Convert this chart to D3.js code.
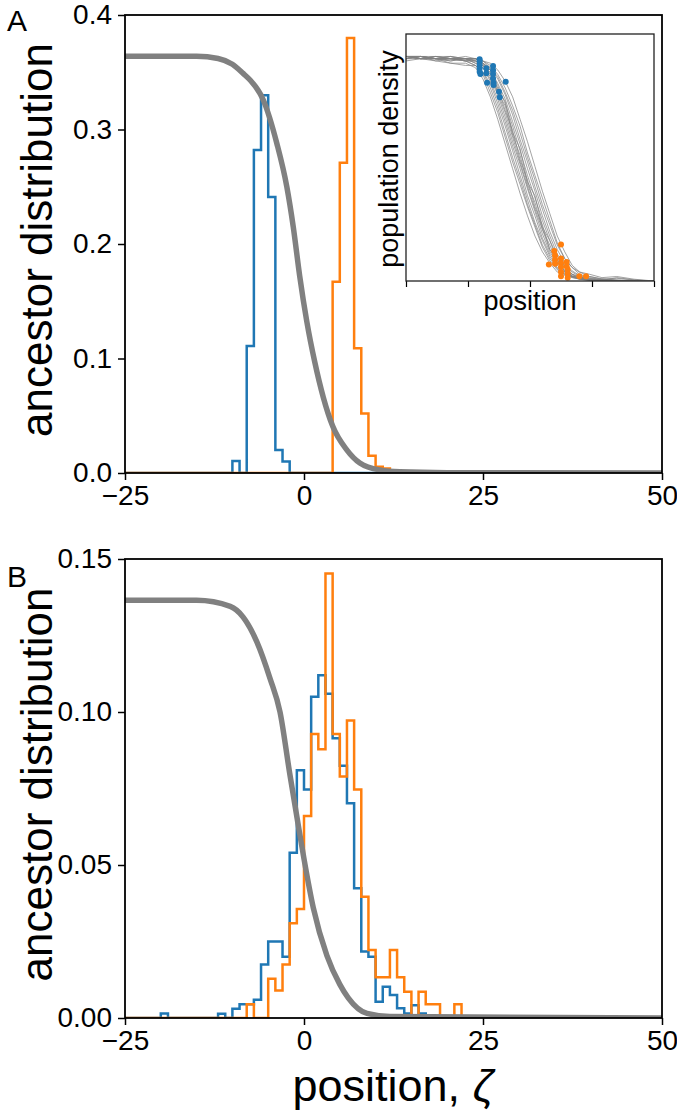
<!DOCTYPE html>
<html><head><meta charset="utf-8">
<script src="https://cdn.jsdelivr.net/npm/d3@7"></script>
<style>body{margin:0;background:#fff}svg{display:block}text{font-family:"Liberation Sans",Arial,Helvetica,sans-serif}</style>
</head><body><svg id="c" width="677" height="1118"></svg>
<script>
// ---------- data ----------
const xTicks = [-25, 0, 25, 50];
const yTicksA = [0, 0.1, 0.2, 0.3, 0.4];
const yTicksB = [0, 0.05, 0.10, 0.15];

// Panel A histograms (bin edges and heights)
const blueAEdges = [-10, -9, -8, -7, -6, -5, -4, -3, -2];
const blueAVals  = [0.0105, 0, 0.111, 0.282, 0.330, 0.241, 0.020, 0.010];
const orangeAEdges = [4, 5, 6, 7, 8, 9, 10, 11, 12];
const orangeAVals  = [0.167, 0.271, 0.380, 0.109, 0.052, 0.015, 0.0055, 0.004];

// Panel A population profile
const grayAx = [-25, -15, -12, -10, -8.5, -7.5, -5.7, -3.8, -2.4, -1.5, -0.6, 0.4, 1.5, 2.7, 4.0, 6.0, 7.8, 10.6, 13.4, 20, 50];
const grayAy = [0.364, 0.364, 0.362, 0.357, 0.349, 0.343, 0.326, 0.288, 0.250, 0.215, 0.172, 0.132, 0.097, 0.066, 0.041, 0.020, 0.0087, 0.0026, 0.001, 0.0003, 0];

// Panel B histograms
const blueBEdges = [-20,-19,-18,-17,-16,-15,-14,-13,-12,-11,-10,-9,-8,-7,-6,-5,-4,-3,-2,-1,0,1,2,3,4,5,6,7,8,9,10,11,12,13,14,15,16,17];
const blueBVals  = [0.0015,0,0,0,0,0,0,0,0.0014,0,0.003,0.0045,0.0045,0.006,0.0175,0.025,0.025,0.020,0.054,0.081,0.0747,0.105,0.112,0.106,0.0914,0.0824,0.0702,0.0424,0.0217,0.020,0.0053,0.0102,0.0075,0.0032,0.0015,0.0042,0.0015];
const orangeBEdges = [-8,-7,-6,-5,-4,-3,-2,-1,0,1,2,3,4,5,6,7,8,9,10,11,12,13,14,15,16,17,18,19,20,21,22];
const orangeBVals  = [0.0045,0,0,0.0128,0.009,0.0175,0.031,0.0356,0.066,0.0928,0.0878,0.1453,0.0928,0.0789,0.0972,0.0747,0.0396,0.0222,0.0133,0.0133,0.0222,0.0133,0.0086,0,0.0086,0.0045,0.0045,0,0,0.0045];

// Panel B population profile
const grayBx = [-25, -15, -10.3, -8.5, -6.6, -4.75, -3.35, -2, -0.8, 0, 1.3, 3.2, 5, 6.2, 8.8, 12, 50];
const grayBy = [0.1365, 0.1365, 0.1345, 0.131, 0.123, 0.111, 0.100, 0.080, 0.063, 0.052, 0.036, 0.0204, 0.011, 0.0065, 0.0015, 0.0005, 0];

// Inset: population density profiles at common positions
const insetX = [0, 6, 12, 18, 24, 28, 31, 34, 37, 40, 43, 46, 49, 52, 55, 58, 61, 64, 67, 70, 74, 79, 85, 92, 100];
const insetTraces = [
 [1.00,0.99,1.00,0.99,0.98,0.96,0.92,0.84,0.75,0.64,0.53,0.43,0.33,0.24,0.15,0.09,0.05,0.03,0.015,0.01,0.005,0.003,0.001,0,0],
 [1.00,1.00,0.99,1.00,0.99,0.99,0.98,0.96,0.92,0.86,0.78,0.69,0.57,0.47,0.37,0.27,0.17,0.10,0.06,0.03,0.015,0.006,0.004,0.002,0],
 [0.99,1.00,0.98,0.99,0.99,0.98,0.97,0.92,0.86,0.76,0.67,0.54,0.45,0.33,0.25,0.14,0.10,0.04,0.03,0.01,0.008,0.002,0,0,0],
 [1.00,0.99,0.99,0.98,0.99,0.97,0.95,0.89,0.81,0.71,0.60,0.50,0.38,0.29,0.19,0.12,0.07,0.04,0.02,0.01,0.004,0.002,0.001,0,0],
 [1.00,1.00,1.00,0.99,0.99,0.99,0.97,0.94,0.88,0.81,0.71,0.61,0.50,0.40,0.29,0.20,0.12,0.07,0.04,0.02,0.01,0.004,0.002,0,0],
 [0.99,0.99,0.98,0.97,0.97,0.95,0.90,0.82,0.72,0.61,0.50,0.39,0.29,0.20,0.13,0.08,0.04,0.025,0.02,0.015,0.02,0.01,0.012,0.004,0],
 [1.00,0.99,1.00,1.00,0.99,0.99,0.98,0.97,0.94,0.89,0.82,0.72,0.62,0.51,0.40,0.30,0.20,0.13,0.07,0.04,0.02,0.008,0.003,0.001,0],
 [1.00,1.00,0.99,0.99,0.98,0.98,0.96,0.93,0.84,0.78,0.65,0.56,0.43,0.35,0.23,0.16,0.08,0.06,0.02,0.015,0.004,0.004,0.002,0,0],
 [0.98,0.99,0.99,0.97,0.96,0.96,0.93,0.88,0.79,0.69,0.58,0.47,0.36,0.26,0.18,0.11,0.06,0.035,0.018,0.008,0.003,0.001,0,0,0],
 [1.00,1.00,0.99,0.99,1.00,0.99,0.98,0.95,0.90,0.83,0.74,0.63,0.53,0.42,0.32,0.22,0.14,0.08,0.045,0.025,0.012,0.006,0.003,0,0],
 [1.00,0.99,1.00,0.99,0.98,0.98,0.95,0.90,0.83,0.73,0.62,0.52,0.41,0.31,0.21,0.13,0.08,0.045,0.022,0.011,0.005,0.002,0.015,0.005,0],
 [0.99,1.00,0.99,0.99,0.99,0.98,0.97,0.94,0.87,0.79,0.69,0.58,0.47,0.37,0.27,0.18,0.11,0.06,0.03,0.016,0.008,0.004,0.002,0.001,0],
 [1.00,0.99,0.99,1.00,0.98,0.99,0.96,0.94,0.85,0.80,0.66,0.59,0.44,0.38,0.24,0.18,0.09,0.07,0.03,0.02,0.005,0.008,0.003,0,0],
 [0.99,1.00,0.99,0.99,0.98,0.96,0.93,0.86,0.77,0.66,0.55,0.45,0.34,0.25,0.16,0.10,0.055,0.03,0.016,0.008,0.003,0.002,0.001,0,0],
 [1.00,0.99,0.99,0.99,0.99,0.99,0.97,0.95,0.91,0.84,0.76,0.66,0.55,0.45,0.34,0.25,0.16,0.10,0.06,0.04,0.03,0.015,0.02,0.008,0],
 [1.00,1.00,0.99,0.98,0.99,0.97,0.96,0.91,0.84,0.75,0.64,0.53,0.42,0.32,0.23,0.14,0.085,0.048,0.024,0.012,0.006,0.003,0.001,0,0]
];
const insetXTicks = [0, 25, 50, 75, 100];
const blueDotsX = [29.7,29.7,29.7,29.7,29.7,30.0,32.4,32.4,32.7,35.1,35.1,35.1,35.1,35.3,35.3,37.5,37.8,40.2];
const blueDotsY = [0.987,0.977,0.962,0.947,0.932,0.922,0.947,0.925,0.883,0.957,0.939,0.922,0.902,0.883,0.873,0.843,0.818,0.887];
const orangeDotsX = [57.6,59.8,60.1,60.1,60.1,62.5,62.5,62.5,62.5,62.5,62.5,64.8,64.8,65.2,65.2,65.2,69.9,72.6];
const orangeDotsY = [0.074,0.134,0.114,0.095,0.077,0.163,0.100,0.080,0.062,0.040,0.021,0.085,0.065,0.051,0.033,0.015,0.021,0.021];

// ---------- drawing ----------
const BLUE = "#1f77b4", ORANGE = "#ff7f0e", GRAY = "#808080";
const FONT = '"Liberation Sans", Arial, Helvetica, sans-serif';
const svg = d3.select("#c");
svg.append("rect").attr("width", 677).attr("height", 1118).attr("fill", "#fff");

const x = d3.scaleLinear().domain([-25, 50]).range([125, 662]);
const yA = d3.scaleLinear().domain([0, 0.4]).range([473, 15]);
const yB = d3.scaleLinear().domain([0, 0.15]).range([1018, 559]);

function stepPts(edges, vals) {
  const pts = [[-25, 0]];
  vals.forEach((v, i) => pts.push([edges[i], v]));
  pts.push([edges[vals.length], 0]);
  pts.push([50, 0]);
  return pts;
}

function panel(id, y, yTicks, fmt, hists, gx, gy, letter, letterY) {
  const [y0, y1] = y.range();
  const clipId = "clip" + id;
  svg.append("clipPath").attr("id", clipId).append("rect")
    .attr("x", 125).attr("y", y1).attr("width", 662 - 125).attr("height", y0 - y1);
  const g = svg.append("g").attr("clip-path", `url(#${clipId})`);
  const step = d3.line().x(d => x(d[0])).y(d => y(d[1])).curve(d3.curveStepAfter);
  hists.forEach(h => {
    g.append("path").attr("d", step(stepPts(h.edges, h.vals)))
      .attr("fill", "none").attr("stroke", h.color).attr("stroke-width", 2.5)
      .attr("stroke-linejoin", "miter");
  });
  const smooth = d3.line().x(d => x(d[0])).y(d => y(d[1])).curve(d3.curveMonotoneX);
  g.append("path").attr("d", smooth(gx.map((v, i) => [v, gy[i]])))
    .attr("fill", "none").attr("stroke", GRAY).attr("stroke-width", 5.5);

  const ax = svg.append("g").attr("transform", `translate(0,${y0})`)
    .call(d3.axisBottom(x).tickValues(xTicks).tickSize(7).tickPadding(5).tickSizeOuter(0));
  const ay = svg.append("g").attr("transform", `translate(125,0)`)
    .call(d3.axisLeft(y).tickValues(yTicks).tickFormat(d3.format(fmt)).tickSize(7).tickPadding(6).tickSizeOuter(0));
  [ax, ay].forEach(a => {
    a.select(".domain").remove();
    a.selectAll("line").attr("stroke", "#000").attr("stroke-width", 1.5);
    a.selectAll("text").attr("font-size", 28).attr("fill", "#000").attr("font-family", FONT);
  });
  svg.append("rect").attr("x", 125).attr("y", y1).attr("width", 662 - 125).attr("height", y0 - y1)
    .attr("fill", "none").attr("stroke", "#000").attr("stroke-width", 1.8);

  svg.append("text").attr("transform", `translate(52,${(y0 + y1) / 2 - 4}) rotate(-90)`)
    .attr("text-anchor", "middle").attr("font-size", 44).text("ancestor distribution");
  svg.append("text").attr("x", 7).attr("y", letterY).attr("font-size", 30).text(letter);
}

panel("A", yA, yTicksA, ".1f",
  [{edges: blueAEdges, vals: blueAVals, color: BLUE}, {edges: orangeAEdges, vals: orangeAVals, color: ORANGE}],
  grayAx, grayAy, "A", 31);
panel("B", yB, yTicksB, ".2f",
  [{edges: blueBEdges, vals: blueBVals, color: BLUE}, {edges: orangeBEdges, vals: orangeBVals, color: ORANGE}],
  grayBx, grayBy, "B", 587);

// x-axis label
const xl = svg.append("text").attr("x", 393).attr("y", 1101).attr("text-anchor", "middle").attr("font-size", 45);
xl.append("tspan").text("position, ");
xl.append("tspan").attr("font-style", "italic").text("ζ");

// ---------- inset ----------
const ix = d3.scaleLinear().domain([0, 100]).range([406, 654]);
const iy = d3.scaleLinear().domain([0, 1.1]).range([281, 34]);
svg.append("rect").attr("x", 406).attr("y", 34).attr("width", 248).attr("height", 247).attr("fill", "#fff");
svg.append("clipPath").attr("id", "clipI").append("rect").attr("x", 406).attr("y", 34).attr("width", 248).attr("height", 247);
const gi = svg.append("g").attr("clip-path", "url(#clipI)");
const tl = d3.line().x((d, i) => ix(insetX[i])).y(d => iy(d));
insetTraces.forEach(t => {
  gi.append("path").attr("d", tl(t)).attr("fill", "none")
    .attr("stroke", GRAY).attr("stroke-width", 0.8).attr("stroke-opacity", 0.9);
});
blueDotsX.forEach((v, i) => gi.append("circle").attr("cx", ix(v)).attr("cy", iy(blueDotsY[i])).attr("r", 3).attr("fill", BLUE));
orangeDotsX.forEach((v, i) => gi.append("circle").attr("cx", ix(v)).attr("cy", iy(orangeDotsY[i])).attr("r", 3).attr("fill", ORANGE));
const iax = svg.append("g").attr("transform", "translate(0,281)")
  .call(d3.axisBottom(ix).tickValues(insetXTicks).tickSize(6).tickFormat("").tickSizeOuter(0));
iax.select(".domain").remove();
iax.selectAll("line").attr("stroke", "#000").attr("stroke-width", 1.2);
svg.append("rect").attr("x", 406).attr("y", 34).attr("width", 248).attr("height", 247)
  .attr("fill", "none").attr("stroke", "#222").attr("stroke-width", 1.3);
svg.append("text").attr("x", 530).attr("y", 310).attr("text-anchor", "middle").attr("font-size", 27).text("position");
svg.append("text").attr("transform", "translate(398,159) rotate(-90)").attr("text-anchor", "middle")
  .attr("font-size", 27).text("population density");
</script></body></html>
